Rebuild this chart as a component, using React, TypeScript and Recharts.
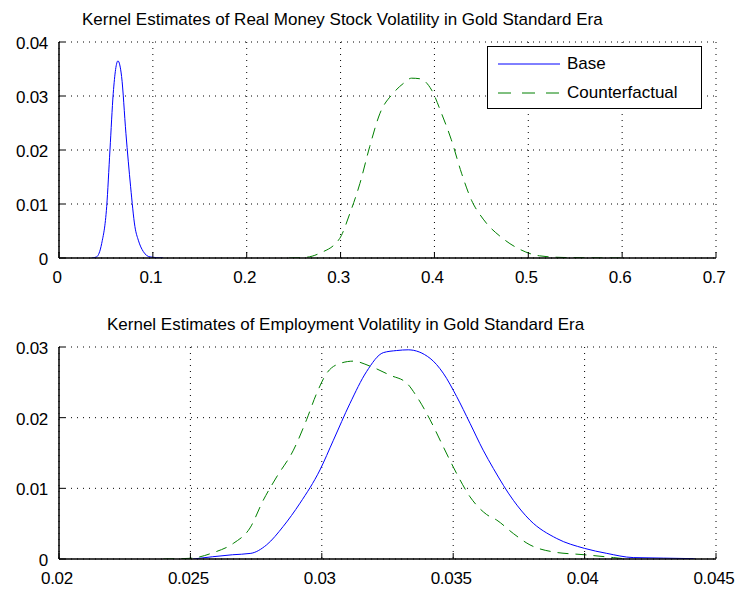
import { CartesianGrid, Legend, Line, LineChart, XAxis, YAxis } from 'recharts';

// kernel density estimates, real money stock volatility
const moneyBase = [
  { x: 0.0348, y: 0 },
  { x: 0.04, y: 0.0002 },
  { x: 0.0455, y: 0.0027 },
  { x: 0.0508, y: 0.0095 },
  { x: 0.0543, y: 0.02 },
  { x: 0.0578, y: 0.0305 },
  { x: 0.0628, y: 0.0365 },
  { x: 0.0667, y: 0.0336 },
  { x: 0.0713, y: 0.0231 },
  { x: 0.0763, y: 0.0132 },
  { x: 0.0809, y: 0.0058 },
  { x: 0.0845, y: 0.0033 },
  { x: 0.0898, y: 0.0012 },
  { x: 0.097, y: 0.0002 },
  { x: 0.111, y: 0 },
];

const moneyCounter = [
  { x: 0.245, y: 0 },
  { x: 0.262, y: 0.0001 },
  { x: 0.278, y: 0.0009 },
  { x: 0.299, y: 0.0036 },
  { x: 0.31, y: 0.0083 },
  { x: 0.3206, y: 0.0138 },
  { x: 0.331, y: 0.0206 },
  { x: 0.342, y: 0.0268 },
  { x: 0.356, y: 0.0305 },
  { x: 0.3667, y: 0.0323 },
  { x: 0.3756, y: 0.0333 },
  { x: 0.3844, y: 0.0332 },
  { x: 0.397, y: 0.0311 },
  { x: 0.4075, y: 0.0268 },
  { x: 0.418, y: 0.0219 },
  { x: 0.4289, y: 0.0157 },
  { x: 0.4395, y: 0.0107 },
  { x: 0.452, y: 0.0072 },
  { x: 0.473, y: 0.0036 },
  { x: 0.491, y: 0.0016 },
  { x: 0.512, y: 0.0004 },
  { x: 0.537, y: 0.0001 },
  { x: 0.6006, y: 0 },
];

// kernel density estimates, employment volatility
const empBase = [
  { x: 0.0251, y: 0 },
  { x: 0.0266, y: 0.0006 },
  { x: 0.0273, y: 0.0008 },
  { x: 0.0279, y: 0.002 },
  { x: 0.02853, y: 0.0046 },
  { x: 0.02917, y: 0.0079 },
  { x: 0.02993, y: 0.0126 },
  { x: 0.03044, y: 0.0168 },
  { x: 0.03107, y: 0.022 },
  { x: 0.0317, y: 0.0265 },
  { x: 0.03234, y: 0.0292 },
  { x: 0.03285, y: 0.0295 },
  { x: 0.03329, y: 0.0296 },
  { x: 0.03412, y: 0.0284 },
  { x: 0.03462, y: 0.0263 },
  { x: 0.03513, y: 0.023 },
  { x: 0.03564, y: 0.0192 },
  { x: 0.03614, y: 0.0154 },
  { x: 0.03653, y: 0.0128 },
  { x: 0.03729, y: 0.0083 },
  { x: 0.03792, y: 0.0055 },
  { x: 0.03894, y: 0.0029 },
  { x: 0.04, y: 0.0015 },
  { x: 0.04084, y: 0.0008 },
  { x: 0.04185, y: 0.0002 },
  { x: 0.04414, y: 0.00005 },
  { x: 0.0442, y: 0 },
];

const empCounter = [
  { x: 0.02397, y: 0 },
  { x: 0.025, y: 0.0001 },
  { x: 0.02587, y: 0.0009 },
  { x: 0.02663, y: 0.0022 },
  { x: 0.02727, y: 0.0044 },
  { x: 0.02777, y: 0.0083 },
  { x: 0.02828, y: 0.0116 },
  { x: 0.02892, y: 0.0154 },
  { x: 0.02942, y: 0.0197 },
  { x: 0.0298, y: 0.0234 },
  { x: 0.03019, y: 0.0263 },
  { x: 0.03057, y: 0.0275 },
  { x: 0.0312, y: 0.028 },
  { x: 0.03183, y: 0.0273 },
  { x: 0.0326, y: 0.026 },
  { x: 0.03323, y: 0.0249 },
  { x: 0.03361, y: 0.023 },
  { x: 0.03412, y: 0.0197 },
  { x: 0.03462, y: 0.0159 },
  { x: 0.03513, y: 0.0121 },
  { x: 0.03564, y: 0.0088 },
  { x: 0.03627, y: 0.0063 },
  { x: 0.03666, y: 0.0055 },
  { x: 0.03729, y: 0.0036 },
  { x: 0.03792, y: 0.002 },
  { x: 0.03881, y: 0.001 },
  { x: 0.04, y: 0.0006 },
  { x: 0.0411, y: 0.0002 },
  { x: 0.0416, y: 0 },
];

const moneyXTicks = [0, 0.1, 0.2, 0.3, 0.4, 0.5, 0.6, 0.7];
const moneyYTicks = [0, 0.01, 0.02, 0.03, 0.04];
const empXTicks = [0.02, 0.025, 0.03, 0.035, 0.04, 0.045];
const empYTicks = [0, 0.01, 0.02, 0.03];

const seriesNames = ['Base', 'Counterfactual'];
const titles = [
  'Kernel Estimates of Real Money Stock Volatility in Gold Standard Era',
  'Kernel Estimates of Employment Volatility in Gold Standard Era',
];

const FONT = '"Liberation Sans", Arial, Helvetica, sans-serif';
const BLUE = '#0000ff';
const GREEN = '#008000';
const DASH = '11 7';
const TICK_LEN = 6;

// tick renderers: label plus an inward tick mark, axes use tickSize 0
const BottomTick = ({ x, y, payload }: any) => (
  <g>
    <line x1={x} x2={x} y1={y} y2={y - TICK_LEN} stroke="#000" />
    <text x={x - 2} y={y + 25} textAnchor="middle" fontSize={17} letterSpacing={-0.3} fontFamily={FONT} fill="#000">
      {String(payload.value)}
    </text>
  </g>
);

const LeftTick = ({ x, y, payload }: any) => (
  <g>
    <line x1={x} x2={x + TICK_LEN} y1={y} y2={y} stroke="#000" />
    <text x={x - 11} y={y + 7} textAnchor="end" fontSize={17} letterSpacing={-0.3} fontFamily={FONT} fill="#000">
      {String(payload.value)}
    </text>
  </g>
);

const TopTick = ({ x, y }: any) => <line x1={x} x2={x} y1={y} y2={y + TICK_LEN} stroke="#000" />;
const RightTick = ({ x, y }: any) => <line x1={x} x2={x - TICK_LEN} y1={y} y2={y} stroke="#000" />;

const LegendBox = () => (
  <div
    style={{
      width: 215,
      height: 63,
      boxSizing: 'border-box',
      border: '1.5px solid #000',
      background: '#fff',
      fontFamily: FONT,
      fontSize: 17,
      color: '#000',
      position: 'relative',
    }}
  >
    {seriesNames.map((name, i) => (
      <div key={name} style={{ position: 'absolute', left: 10, top: 5 + i * 29, height: 24, display: 'flex', alignItems: 'center' }}>
        <svg width={62} height={4} style={{ display: 'block' }}>
          <line
            x1={0}
            x2={62}
            y1={2}
            y2={2}
            stroke={i === 0 ? BLUE : GREEN}
            strokeWidth={1}
            strokeDasharray={i === 0 ? undefined : '13 11'}
          />
        </svg>
        <span style={{ marginLeft: 7 }}>{name}</span>
      </div>
    ))}
  </div>
);

interface PanelProps {
  title: string;
  titleLeft: number;
  titleTop: number;
  top: number;
  height: number;
  marginTop: number;
  marginBottom: number;
  xDomain: [number, number];
  yDomain: [number, number];
  xTicks: number[];
  yTicks: number[];
  base: { x: number; y: number }[];
  counter: { x: number; y: number }[];
  showLegend?: boolean;
}

function Panel(p: PanelProps) {
  return (
    <div style={{ position: 'absolute', left: 0, top: p.top, width: 735, height: p.height }}>
      <div
        style={{
          position: 'absolute',
          left: p.titleLeft,
          top: p.titleTop,
          fontFamily: FONT,
          fontSize: 17,
          lineHeight: '20px',
          whiteSpace: 'nowrap',
          color: '#000',
        }}
      >
        {p.title}
      </div>
      <LineChart
        width={735}
        height={p.height}
        margin={{ top: p.marginTop, right: 19, bottom: p.marginBottom, left: 9 }}
      >
        <CartesianGrid stroke="#000" strokeDasharray="1 5" strokeWidth={1} />
        <XAxis
          type="number"
          dataKey="x"
          domain={p.xDomain}
          ticks={p.xTicks}
          allowDataOverflow
          height={30}
          tickSize={0}
          tickMargin={0}
          tick={<BottomTick />}
          axisLine={{ stroke: '#000', strokeWidth: 1.5 }}
          interval={0}
        />
        <XAxis
          xAxisId="top"
          orientation="top"
          type="number"
          dataKey="x"
          domain={p.xDomain}
          ticks={p.xTicks}
          allowDataOverflow
          height={0}
          tickSize={0}
          tickMargin={0}
          tick={<TopTick />}
          axisLine={{ stroke: '#000', strokeWidth: 1.5 }}
          interval={0}
        />
        <YAxis
          type="number"
          domain={p.yDomain}
          ticks={p.yTicks}
          allowDataOverflow
          width={50}
          tickSize={0}
          tickMargin={0}
          tick={<LeftTick />}
          axisLine={{ stroke: '#000', strokeWidth: 1.5 }}
          interval={0}
        />
        <YAxis
          yAxisId="right"
          orientation="right"
          type="number"
          domain={p.yDomain}
          ticks={p.yTicks}
          allowDataOverflow
          width={0}
          tickSize={0}
          tickMargin={0}
          tick={<RightTick />}
          axisLine={{ stroke: '#000', strokeWidth: 1.5 }}
          interval={0}
        />
        <Line
          data={p.base}
          dataKey="y"
          name={seriesNames[0]}
          type="monotone"
          stroke={BLUE}
          strokeWidth={1}
          dot={false}
          isAnimationActive={false}
        />
        <Line
          data={p.counter}
          dataKey="y"
          name={seriesNames[1]}
          type="monotone"
          stroke={GREEN}
          strokeWidth={1}
          strokeDasharray={DASH}
          dot={false}
          isAnimationActive={false}
        />
        {p.showLegend && (
          <Legend
            layout="vertical"
            align="center"
            verticalAlign="middle"
            content={<LegendBox />}
            wrapperStyle={{ left: 487, top: 46, width: 215, height: 63 }}
          />
        )}
      </LineChart>
    </div>
  );
}

export default function App() {
  return (
    <div style={{ position: 'absolute', left: 0, top: 0, width: 735, height: 593, background: '#fff' }}>
      <Panel
        title={titles[0]}
        titleLeft={82}
        titleTop={10}
        top={0}
        height={290}
        marginTop={42}
        marginBottom={2}
        xDomain={[0, 0.7]}
        yDomain={[0, 0.04]}
        xTicks={moneyXTicks}
        yTicks={moneyYTicks}
        base={moneyBase}
        counter={moneyCounter}
        showLegend
      />
      <Panel
        title={titles[1]}
        titleLeft={107}
        titleTop={25}
        top={290}
        height={303}
        marginTop={57}
        marginBottom={4}
        xDomain={[0.02, 0.045]}
        yDomain={[0, 0.03]}
        xTicks={empXTicks}
        yTicks={empYTicks}
        base={empBase}
        counter={empCounter}
      />
    </div>
  );
}
